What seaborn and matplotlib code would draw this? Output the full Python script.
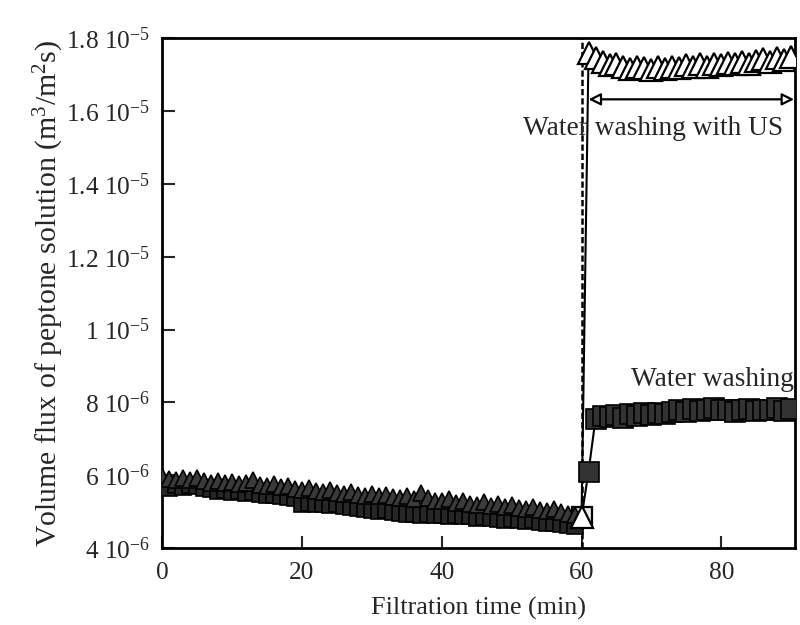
import numpy as np
import pandas as pd
import matplotlib
matplotlib.use("Agg")
import matplotlib.pyplot as plt
import seaborn as sns

# ---------------- data (flux in units of 1e-6 m3/m2 s) ----------------
time_peptone = list(range(0, 60))
flux_tri_peptone = [5.98, 5.90, 5.86, 5.92, 5.87, 5.93, 5.85, 5.80, 5.84, 5.78,
                    5.82, 5.76, 5.80, 5.86, 5.74, 5.70, 5.75, 5.67, 5.71, 5.63,
                    5.60, 5.66, 5.58, 5.55, 5.60, 5.52, 5.49, 5.54, 5.47, 5.44,
                    5.49, 5.42, 5.46, 5.40, 5.37, 5.43, 5.36, 5.50, 5.38, 5.30,
                    5.28, 5.34, 5.25, 5.30, 5.22, 5.19, 5.26, 5.16, 5.20, 5.12,
                    5.18, 5.10, 5.07, 5.14, 5.05, 5.02, 5.08, 4.99, 4.95, 4.92]
flux_sq_peptone = [5.70, 5.66, 5.72, 5.68, 5.74, 5.70, 5.65, 5.62, 5.58, 5.60,
                   5.55, 5.57, 5.52, 5.54, 5.48, 5.45, 5.47, 5.42, 5.40, 5.38,
                   5.22, 5.25, 5.20, 5.22, 5.18, 5.21, 5.16, 5.14, 5.10, 5.08,
                   5.06, 5.02, 5.05, 5.00, 4.96, 4.93, 4.95, 4.92, 4.94, 4.90,
                   4.92, 4.89, 4.91, 4.87, 4.88, 4.84, 4.86, 4.82, 4.80, 4.78,
                   4.80, 4.76, 4.74, 4.76, 4.72, 4.70, 4.68, 4.66, 4.63, 4.62]

time_wash = [60, 61] + list(range(62, 91))
flux_tri_wash = [4.85, 17.60,
                 17.45, 17.35, 17.25, 17.30, 17.20, 17.15, 17.22, 17.18, 17.12, 17.20,
                 17.15, 17.22, 17.18, 17.25, 17.20, 17.28, 17.22, 17.30, 17.25, 17.32,
                 17.28, 17.35, 17.30, 17.38, 17.42, 17.35, 17.45, 17.40, 17.48]
flux_sq_wash = [4.85, 6.10,
                7.55, 7.62, 7.60, 7.65, 7.58, 7.68, 7.64, 7.70, 7.66, 7.72,
                7.68, 7.75, 7.80, 7.74, 7.82, 7.76, 7.80, 7.84, 7.78, 7.80,
                7.74, 7.79, 7.83, 7.76, 7.80, 7.78, 7.84, 7.77, 7.81]

y_ticks = [4e-6, 6e-6, 8e-6, 1e-5, 1.2e-5, 1.4e-5, 1.6e-5, 1.8e-5]
y_tick_labels = [r"4 10$^{-6}$", r"6 10$^{-6}$", r"8 10$^{-6}$", r"1 10$^{-5}$",
                 r"1.2 10$^{-5}$", r"1.4 10$^{-5}$", r"1.6 10$^{-5}$", r"1.8 10$^{-5}$"]
x_ticks = [0, 20, 40, 60, 80]

# ---------------- style ----------------
sns.set_style("ticks")
plt.rcParams["font.family"] = ["Liberation Serif", "DejaVu Serif"]
plt.rcParams["mathtext.fontset"] = "custom"
plt.rcParams["mathtext.rm"] = "Liberation Serif"
plt.rcParams["mathtext.it"] = "Liberation Serif:italic"
plt.rcParams["mathtext.default"] = "rm"

fig = plt.figure(figsize=(8, 6.25), dpi=100)
ax = fig.add_axes([0.2025, 0.123, 0.791, 0.816])

S = 1e-6
sq_all_t = time_peptone + time_wash
sq_all_y = np.array(flux_sq_peptone + flux_sq_wash) * S
tri_all_t = time_peptone + time_wash
tri_all_y = np.array(flux_tri_peptone + flux_tri_wash) * S

# connecting lines
sns.lineplot(x=sq_all_t, y=sq_all_y, sort=False, estimator=None, ax=ax,
             color="black", lw=1.5, zorder=2)
sns.lineplot(x=tri_all_t, y=tri_all_y, sort=False, estimator=None, ax=ax,
             color="black", lw=1.5, zorder=3)

# squares (water washing)
sns.lineplot(x=time_peptone, y=np.array(flux_sq_peptone) * S, sort=False,
             estimator=None, ax=ax, lw=0, marker="s", markersize=12,
             markerfacecolor="#262626", markeredgecolor="black",
             markeredgewidth=1.2, zorder=4)
sns.lineplot(x=time_wash[1:], y=np.array(flux_sq_wash[1:]) * S, sort=False,
             estimator=None, ax=ax, lw=0, marker="s", markersize=15,
             markerfacecolor="#333333", markeredgecolor="black",
             markeredgewidth=1.2, zorder=4)
sns.lineplot(x=time_wash[:1], y=np.array(flux_sq_wash[:1]) * S, sort=False,
             estimator=None, ax=ax, lw=0, marker="s", markersize=15,
             markerfacecolor="#e8e8e8", markeredgecolor="black",
             markeredgewidth=1.6, zorder=4)

# triangles (water washing with US)
sns.lineplot(x=time_peptone, y=np.array(flux_tri_peptone) * S, sort=False,
             estimator=None, ax=ax, lw=0, marker="^", markersize=12,
             markerfacecolor="#3a3a3a", markeredgecolor="black",
             markeredgewidth=1.2, zorder=5)
sns.lineplot(x=time_wash, y=np.array(flux_tri_wash) * S, sort=False,
             estimator=None, ax=ax, lw=0, marker="^", markersize=16,
             markerfacecolor="white", markeredgecolor="black",
             markeredgewidth=1.6, zorder=5)

# dashed switch line
ax.axvline(60, color="black", lw=1.8, ls=(0, (2.5, 1.2)), zorder=1)

# double arrow + annotations
ax.annotate("", xy=(61, 1.632e-5), xytext=(90.4, 1.632e-5),
            arrowprops=dict(arrowstyle="<|-|>", color="black", lw=1.6,
                            fc="white", mutation_scale=18, shrinkA=0, shrinkB=0),
            zorder=6)
ax.text(70.2, 1.553e-5, "Water washing with US", fontsize=19.7, ha="center",
        va="center", zorder=6)
ax.text(90.4, 8.62e-6, "Water washing", fontsize=19.7, ha="right",
        va="center", zorder=6)

ax.set_xlim(0, 90.5)
ax.set_ylim(4e-6, 1.8e-5)
ax.set_xticks(x_ticks)
ax.set_xticklabels([str(v) for v in x_ticks])
ax.set_yticks(y_ticks)
ax.set_yticklabels(y_tick_labels)
ax.tick_params(direction="in", length=9, width=1.5, labelsize=18.3)
ax.tick_params(axis="y", pad=9)
ax.tick_params(axis="x", pad=10)
for sp in ax.spines.values():
    sp.set_visible(True)
    sp.set_linewidth(2)
    sp.set_color("black")

ax.set_xlabel("Filtration time (min)", fontsize=18.8, labelpad=9)
ax.set_ylabel(r"Volume flux of peptone solution (m$^3$/m$^2$s)", fontsize=21.5,
              labelpad=0)

fig.savefig("out.png", dpi=100)
